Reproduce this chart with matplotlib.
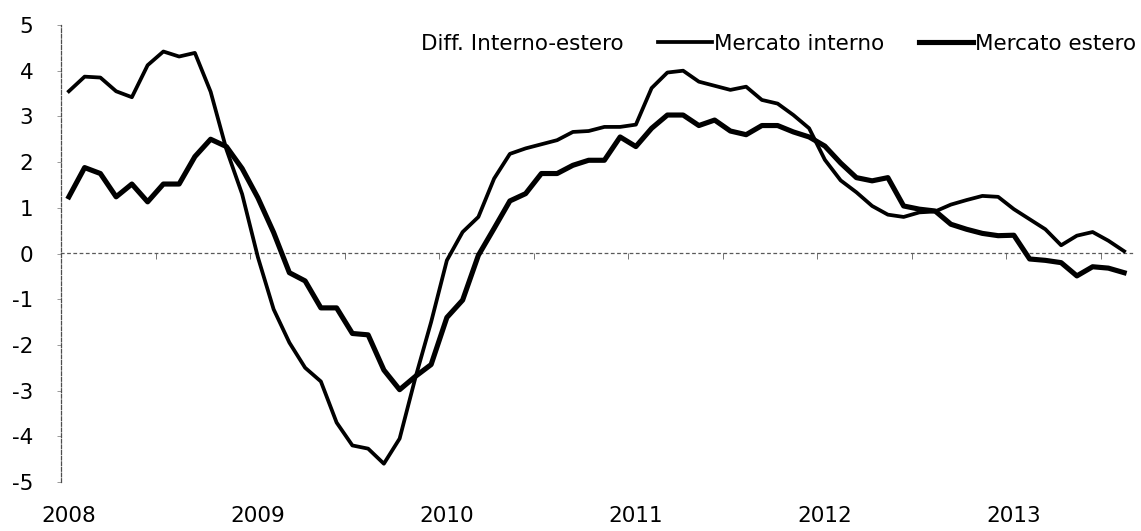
"""Mercato interno vs estero, monthly series 2008-2013 (scanned Excel chart)."""

import matplotlib

matplotlib.use("Agg")
import matplotlib.pyplot as plt
from matplotlib.lines import Line2D
from matplotlib.patches import Patch
import numpy as np

plt.rcParams["font.family"] = ["DejaVu Sans"]
plt.rcParams["axes.unicode_minus"] = False

# monthly values, Jan 2008 .. Aug 2013
YEARS = ["2008", "2009", "2010", "2011", "2012", "2013"]
MERCATO_INTERNO = [
    3.55, 3.87, 3.85, 3.55, 3.42, 4.12, 4.42, 4.31, 4.39, 3.54, 2.28, 1.30,
    -0.08, -1.22, -1.95, -2.50, -2.80, -3.70, -4.20, -4.27, -4.60, -4.05, -2.72, -1.50,
    -0.15, 0.47, 0.80, 1.64, 2.18, 2.30, 2.39, 2.48, 2.66, 2.68, 2.77, 2.77,
    2.82, 3.62, 3.96, 4.00, 3.76, 3.67, 3.58, 3.65, 3.36, 3.28, 3.03, 2.74,
    2.05, 1.60, 1.34, 1.04, 0.85, 0.80, 0.90, 0.92, 1.07, 1.17, 1.26, 1.24,
    0.97, 0.75, 0.53, 0.18, 0.39, 0.47, 0.28, 0.05,
]
MERCATO_ESTERO = [
    1.24, 1.88, 1.75, 1.24, 1.52, 1.13, 1.52, 1.52, 2.12, 2.50, 2.34, 1.86,
    1.22, 0.46, -0.42, -0.60, -1.19, -1.19, -1.75, -1.78, -2.55, -2.98, -2.69, -2.43,
    -1.40, -1.02, -0.04, 0.55, 1.15, 1.31, 1.75, 1.75, 1.93, 2.04, 2.04, 2.55,
    2.34, 2.74, 3.03, 3.03, 2.80, 2.92, 2.68, 2.60, 2.80, 2.80, 2.66, 2.55,
    2.35, 1.98, 1.66, 1.59, 1.66, 1.04, 0.97, 0.93, 0.64, 0.53, 0.44, 0.39,
    0.40, -0.12, -0.15, -0.20, -0.49, -0.29, -0.32, -0.42,
]

W, H = 1141, 531
FS = 15.5
LW_INT = 2.7
LW_EST = 3.7

fig = plt.figure(figsize=(W / 100, H / 100), dpi=100)
ax = fig.add_axes([61 / W, 49 / H, (1132 - 61) / W, (506 - 49) / H])

x = np.arange(len(MERCATO_INTERNO))
ax.plot(x, MERCATO_INTERNO, color="black", lw=LW_INT,
        solid_joinstyle="round", label="Mercato interno")
ax.plot(x, MERCATO_ESTERO, color="black", lw=LW_EST,
        solid_joinstyle="round", label="Mercato estero")

ax.set_xlim(-0.5, len(x) - 0.5)
ax.set_ylim(-5, 5)

# y axis: scanned-looking dashed spine on the left
for side in ("top", "right", "bottom"):
    ax.spines[side].set_visible(False)
ax.spines["left"].set_color("0.3")
ax.spines["left"].set_linestyle((0, (3, 1.5)))
ax.spines["left"].set_linewidth(0.9)
ax.set_yticks(range(-5, 6))
ax.tick_params(axis="y", length=3, width=0.7, color="0.6",
               labelsize=FS, pad=17)

# year labels at the bottom, under each January
ax.set_xticks(range(0, len(x), 12))
ax.set_xticklabels(YEARS)
ax.tick_params(axis="x", length=0, labelsize=FS, pad=17)

# category axis crossing at zero, ticks every 6 months
zero_axis = ax.secondary_xaxis(0.5)
for side in ("top", "bottom"):
    zero_axis.spines[side].set_color("0.35")
    zero_axis.spines[side].set_linestyle((0, (2, 3)))
    zero_axis.spines[side].set_linewidth(0.9)
zero_axis.set_xticks(np.arange(5.5, len(x), 6))
zero_axis.set_xticklabels([])
zero_axis.tick_params(length=4, width=0.7, color="0.45", direction="in",
                      labeltop=False, labelbottom=False)

handles = [
    Patch(facecolor="none", edgecolor="none"),
    Line2D([], [], color="black", lw=LW_INT),
    Line2D([], [], color="black", lw=LW_EST),
]
labels = ["Diff. Interno-estero", "Mercato interno", "Mercato estero"]
fig.legend(handles, labels, loc="upper right", ncol=3,
           bbox_to_anchor=(1136 / W, 1 - 34 / H), frameon=False,
           fontsize=FS, handlelength=2.5, handletextpad=0.1,
           columnspacing=1.6, borderpad=0, borderaxespad=0)

fig.savefig("out.png", dpi=100)
